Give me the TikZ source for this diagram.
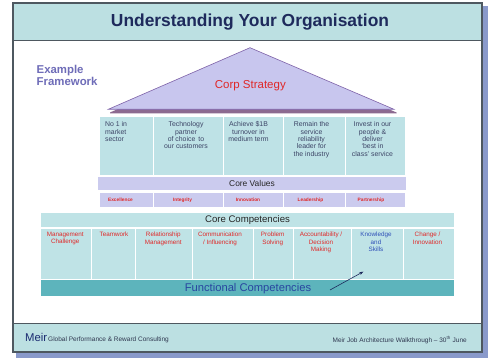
\documentclass[tikz,border=0pt]{standalone}
\usepackage{fontspec}
\setmainfont{Liberation Sans}
\usetikzlibrary{arrows.meta}

\definecolor{slideshadow}{HTML}{8A9ACB}
\definecolor{slideedge}{HTML}{4E5860}
\definecolor{bandteal}{HTML}{BCE0E2}
\definecolor{titlenavy}{HTML}{1E2A5C}
\definecolor{framepurple}{HTML}{6E6CB8}
\definecolor{strategyfill}{HTML}{C8C6EE}
\definecolor{strategyedge}{HTML}{7E62A8}
\definecolor{strategybase}{HTML}{8C6A90}
\definecolor{goalteal}{HTML}{BEE2E6}
\definecolor{valuelav}{HTML}{CBCBEE}
\definecolor{compteal}{HTML}{BFE3E6}
\definecolor{functeal}{HTML}{5DB4BC}
\definecolor{funcblue}{HTML}{2846A0}
\definecolor{itemred}{HTML}{E02828}
\definecolor{goaltext}{HTML}{3C4466}
\definecolor{skillblue}{HTML}{3050B8}
\definecolor{footertext}{HTML}{303850}
\definecolor{meirnavy}{HTML}{1A2A70}

\tikzset{
  goal/.style={font=\fontsize{6.9}{7.4}\selectfont, text=goaltext, align=center, anchor=north, inner sep=0pt},
  valueitem/.style={font=\fontsize{4.8}{5}\selectfont\bfseries, text=itemred, inner sep=0pt},
  compitem/.style={font=\fontsize{6.3}{7.8}\selectfont, text=itemred, align=center, anchor=north, inner sep=0pt},
  barlabel/.style={font=\fontsize{8.4}{9}\selectfont, text=black!85, inner sep=0pt},
  cellline/.style={white, line width=0.8pt},
  footnote/.style={font=\fontsize{6.5}{7}\selectfont, text=footertext, inner sep=0pt, anchor=base west},
}

\begin{document}
\begin{tikzpicture}[x=1pt,y=-1pt]
\useasboundingbox (0,0) rectangle (488,358);

% slide with its drop shadow
\fill[slideshadow] (16,6) rectangle (488,358);
\fill[white] (13,3) rectangle (482,352);
\fill[bandteal] (13,3) rectangle (482,40);
\fill[bandteal] (13,323) rectangle (482,352);
\draw[slideedge, line width=0.8pt] (13,40) -- (482,40);
\draw[slideedge, line width=0.8pt] (13,323) -- (482,323);
\draw[slideedge, line width=1.2pt] (13,3) rectangle (482,352);

% title
\node[font=\fontsize{17.4}{20}\selectfont\bfseries, text=titlenavy, inner sep=0pt] (title) at (250,21.7) {Understanding Your Organisation};

% side caption
\node[font=\fontsize{11.4}{12.8}\selectfont\bfseries, text=framepurple, align=left, anchor=west, inner sep=0pt] (framework) at (36.5,75.5) {Example\\Framework};

% corporate strategy triangle
\fill[strategybase] (110,112.5) -- (251,50.5) -- (396.5,112.5) -- (396.5,113.5) -- (110,113.5) -- cycle;
\filldraw[fill=strategyfill, draw=strategyedge, line width=0.6pt] (108.3,109.3) -- (250,47.7) -- (394,109.3) -- cycle;
\node[font=\fontsize{11.5}{12}\selectfont, text=itemred, inner sep=0pt] (corp) at (250.3,86) {Corp Strategy};

% strategic goals
\fill[goalteal] (100,116.7) rectangle (405,175);
\foreach \gx in {153.3,223.3,283.3,345} \draw[cellline] (\gx,116.7) -- (\gx,175);
\node[goal, anchor=north west, align=left] (goalA) at (105,121.5) {No 1 in\\market\\sector};
\node[goal] (goalB) at (186,121.5) {Technology\\partner\\of choice\, to\\our customers};
\node[goal] (goalC) at (248.5,121.5) {Achieve \$1B\\turnover in\\medium term};
\node[goal] (goalD) at (311.5,121.5) {Remain the\\service\\reliability\\leader for\\the industry};
\node[goal] (goalE) at (372.5,121.5) {Invest in our\\people \&\\deliver\\`best in\\class' service};

% core values
\fill[valuelav] (98.3,176.7) rectangle (406,190);
\node[barlabel] (values) at (252,183) {Core Values};
\fill[valuelav] (100,193.3) rectangle (405,206.7);
\foreach \vx in {153.3,223.3,283.3,345} \draw[cellline] (\vx,193.3) -- (\vx,206.7);
\node[valueitem] (excellence) at (120.5,200) {Excellence};
\node[valueitem] (integrity) at (182.5,200) {Integrity};
\node[valueitem] (innovation) at (248,200) {Innovation};
\node[valueitem] (leadership) at (310.5,200) {Leadership};
\node[valueitem] (partnership) at (371,200) {Partnership};

% core competencies
\fill[compteal] (40.7,213.3) rectangle (454.3,227.3);
\node[barlabel, font=\fontsize{9.6}{10}\selectfont] (corecomp) at (247.5,220.3) {Core Competencies};
\fill[compteal] (40.7,229.3) rectangle (454.3,279.3);
\foreach \cx in {91,135,192,253,293,351.7,403.3} \draw[cellline] (\cx,229.3) -- (\cx,279.3);
\node[compitem] (mgmt) at (65.3,231.6) {Management\\Challenge};
\node[compitem] (team) at (114,231.6) {Teamwork};
\node[compitem] (relation) at (163.3,231.6) {Relationship\\Management};
\node[compitem] (comms) at (220,231.6) {Communication\\/ Influencing};
\node[compitem] (problem) at (272.7,231.6) {Problem\\Solving};
\node[compitem] (account) at (321,231.6) {Accountability /\\Decision\\Making};
\node[compitem, text=skillblue] (knowledge) at (376,231.6) {Knowledge\\and\\Skills};
\node[compitem] (change) at (427.5,231.6) {Change /\\Innovation};

% functional competencies
\fill[functeal] (40.7,280) rectangle (454.3,296.5);
\node[font=\fontsize{11.2}{12}\selectfont, text=funcblue, inner sep=0pt] (functional) at (248,288.4) {Functional Competencies};
\coordinate (linkTail) at (330,290);
\coordinate (linkHead) at (363.3,271.7);
\draw[titlenavy, line width=0.6pt, -{Stealth[length=4pt,width=3pt]}] (linkTail) -- (linkHead);

% footer
\node[footnote, font=\fontsize{11.3}{12}\selectfont, text=meirnavy] (meir) at (25,341.5) {Meir};
\node[footnote] (consult) at (48,341.5) {Global Performance \& Reward Consulting};
\node[footnote, anchor=base east] (walk) at (467,342.5) {Meir Job Architecture Walkthrough -- 30\textsuperscript{th} June};
\end{tikzpicture}
\end{document}
